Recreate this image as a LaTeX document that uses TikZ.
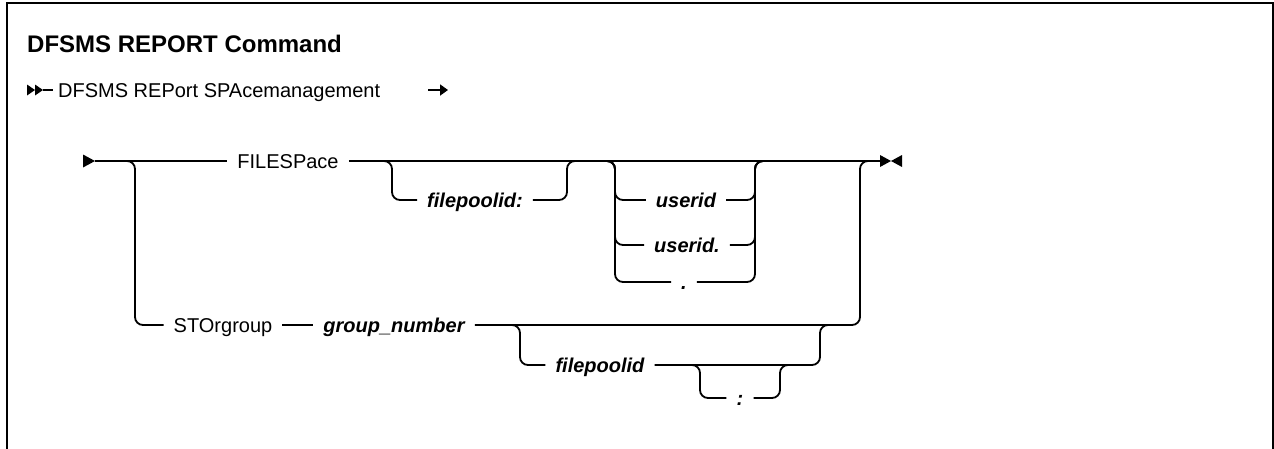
\documentclass[tikz,border=0pt]{standalone}
\usepackage{fontspec}
\setmainfont{Liberation Sans}
\usetikzlibrary{arrows.meta,positioning,calc}

\begin{document}
\begin{tikzpicture}[x=1pt,y=-1pt,
  kw/.style={inner xsep=10pt,inner ysep=0pt,text height=14pt,text depth=0pt,font=\fontsize{20}{24}\selectfont},
  var/.style={kw,font=\fontsize{20}{24}\selectfont\bfseries\itshape},
  rail/.style={line width=1.8pt,rounded corners=8pt},
  frame/.style={line width=2.8pt}
]
\useasboundingbox (0,0) rectangle (1274,448);
\draw[frame] (7,452) -- (7,3) -- (1273,3) -- (1273,452);

% heading
\node[font=\fontsize{24}{28}\selectfont\bfseries,anchor=west,inner sep=0pt] (title) at (27,44) {DFSMS REPORT Command};
\node[kw,inner xsep=5pt,anchor=west] (hdr) at (53,90) {DFSMS REPort SPAcemanagement};
\coordinate (hin)  at (43,90);
\coordinate (hout) at (428,90);
\coordinate (hend) at (448,90);
\fill (hin) -- ++(-8,-5.5) -- ++(0,11) -- cycle;
\fill (hin) ++(-8,0) -- ++(-8,-5.5) -- ++(0,11) -- cycle;
\draw[rail] (hin) -- (hdr.west);
\draw[rail,-{Triangle[length=8pt,width=11pt]}] (hout) -- (hend);

% keywords and variables
\node[kw]  (files) at (288,161) {FILESPace};
\node[var] (fpA)   at (475,200) {filepoolid:};
\node[var] (uidA)  at (686,200) {userid};
\node[var] (uidB)  at (687,245) {userid.};
\node[var] (uidC)  at (684,282) {.};
\node[kw]  (stor)  at (223,325) {STOrgroup};
\node[var] (gnum)  at (394,325) {group\_number};
\node[var] (fpB)   at (600,365) {filepoolid};
\node[var] (colon) at (740,398) {:};

% forks and joins on the rails
\coordinate (start) at (95,161);
\coordinate (finish) at (880,161);
\coordinate (forkA) at (380,161);
\coordinate (joinA) at (577,161);
\coordinate (forkB) at (605,161);
\coordinate (joinB) at (765,161);
\coordinate (joinR) at (870,161);
\coordinate (forkC) at (510,325);
\coordinate (joinC) at (830,325);
\coordinate (forkD) at (690,365);
\coordinate (joinD) at (790,365);

% start and end marks
\fill (start) -- ++(-12,-6.5) -- ++(0,13) -- cycle;
\fill (finish) -- ++(0,-6) -- ++(11,6) -- ++(11,-6) -- ++(0,12) -- ++(-11,-6) -- ++(-11,6) -- cycle;

% main line
\draw[rail] (start) -- (files.west);
\draw[rail] (files.east) -- (finish);
\draw[rail] (start) -| ++(40,164) -- (stor.west);
\draw[rail] (joinR) -| ++(-10,164) -- (gnum.east);
\draw[rail] (stor.east) -- (gnum.west);

% filepoolid: (optional)
\draw[rail] (forkA) -| ++(12,39) -- (fpA.west);
\draw[rail] (joinA) -| ++(-10,39) -- (fpA.east);

% userid choices
\foreach \n/\dy in {uidA/39,uidB/84,uidC/121}{
  \draw[rail] (forkB) -| ++(10,\dy) -- (\n.west);
  \draw[rail] (joinB) -| ++(-10,\dy) -- (\n.east);
}

% filepoolid after group_number, with optional colon
\draw[rail] (forkC) -| ++(10,40) -- (fpB.west);
\draw[rail] (joinC) -| ++(-10,40) -- (fpB.east);
\draw[rail] (forkD) -| ++(10,33) -- (colon.west);
\draw[rail] (joinD) -| ++(-10,33) -- (colon.east);
\end{tikzpicture}
\end{document}
